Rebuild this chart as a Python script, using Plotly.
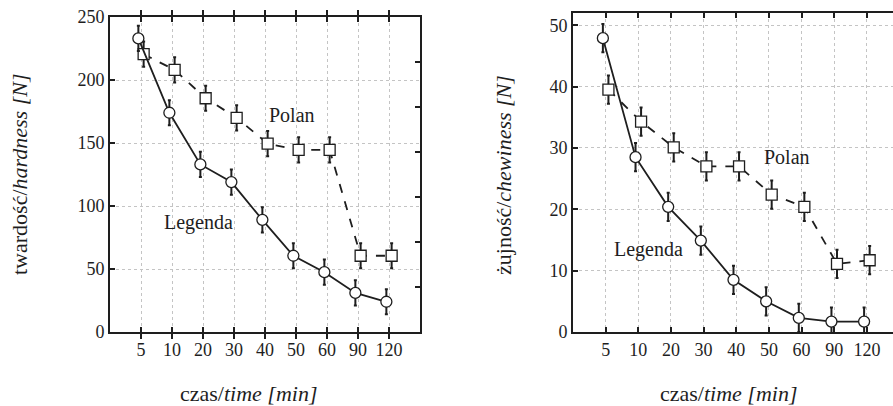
import plotly.graph_objects as go

W, H = 893, 406

categories = ["5", "10", "20", "30", "40", "50", "60", "90", "120"]

hard_legenda = [233, 174, 133, 119, 89, 60.5, 47.5, 31, 24]
hard_polan = [220.5, 208, 185.5, 170, 149.5, 144.5, 144.5, 60.5, 60.5]
hard_err = [10, 10, 10, 10, 10, 10, 10, 10, 10]

chew_legenda = [47.9, 28.5, 20.4, 14.9, 8.5, 5.0, 2.3, 1.7, 1.7]
chew_polan = [39.5, 34.3, 30.1, 27.0, 27.0, 22.4, 20.4, 11.1, 11.7]
chew_err = [2.3, 2.3, 2.3, 2.3, 2.3, 2.3, 2.3, 2.3, 2.3]

FONT = "'Liberation Serif', 'Times New Roman', Times, 'DejaVu Serif', serif"
INK = "#1e1e1e"
OFF = 0.085

idx = list(range(len(categories)))
fig = go.Figure()


def add_series(vals, err, offset, symbol, dash, xa, ya):
    fig.add_trace(go.Scatter(
        x=[i + offset for i in idx], y=vals,
        mode="lines+markers",
        line=dict(color=INK, width=1.8, dash=dash),
        marker=dict(symbol=symbol, size=11, color="white",
                    line=dict(color=INK, width=1.3)),
        error_y=dict(type="data", array=err, visible=True,
                     color=INK, thickness=2, width=1.5),
        xaxis=xa, yaxis=ya, showlegend=False, cliponaxis=False,
        hoverinfo="skip",
    ))


add_series(hard_polan, hard_err, OFF, "square", "dash", "x", "y")
add_series(hard_legenda, hard_err, -OFF, "circle", "solid", "x", "y")
add_series(chew_polan, chew_err, OFF, "square", "dash", "x2", "y2")
add_series(chew_legenda, chew_err, -OFF, "circle", "solid", "x2", "y2")


def px_x(p):
    return p / W


def px_y(p):
    return 1 - p / H


axis_common = dict(
    showline=True, linewidth=2, linecolor=INK, mirror="allticks",
    ticks="inside", ticklen=5, tickwidth=2, tickcolor=INK,
    showgrid=True, gridcolor="#c4c4c4", griddash="dot", gridwidth=1,
    zeroline=False, automargin=False,
    tickfont=dict(family=FONT, size=18, color=INK),
)

fig.update_layout(
    width=W, height=H,
    margin=dict(l=0, r=0, t=0, b=0, pad=0),
    font=dict(family=FONT, color=INK),
    paper_bgcolor="white", plot_bgcolor="white",
    xaxis=dict(axis_common, domain=[px_x(110), px_x(420)], range=[-1, 9],
               tickmode="array", tickvals=idx, ticktext=categories,
               anchor="y"),
    yaxis=dict(axis_common, domain=[px_y(332), px_y(17)], range=[0, 250],
               tickmode="array", tickvals=[0, 50, 100, 150, 200, 250],
               mirror=True, anchor="x"),
    yaxis3=dict(overlaying="y", side="right", anchor="x", range=[0, 7],
                tickmode="linear", dtick=1, ticks="inside", ticklen=5,
                tickwidth=2, tickcolor=INK, showticklabels=False,
                showgrid=False, zeroline=False, showline=False),
    xaxis2=dict(axis_common, domain=[px_x(573), 1.0], range=[-1, 8.8],
                tickmode="array", tickvals=idx, ticktext=categories,
                anchor="y2"),
    yaxis2=dict(axis_common, domain=[px_y(332), px_y(13)], range=[0, 52],
                tickmode="array", tickvals=[0, 10, 20, 30, 40, 50],
                mirror=True, anchor="x2"),
)

# dummy trace so the overlaying right axis is drawn
fig.add_trace(go.Scatter(x=[None], y=[None], xaxis="x", yaxis="y3",
                         showlegend=False, hoverinfo="skip"))

ann = [
    dict(text="Polan", x=4.87, y=172, xref="x", yref="y"),
    dict(text="Legenda", x=1.87, y=87, xref="x", yref="y"),
    dict(text="Polan", x=5.55, y=28.6, xref="x2", yref="y2"),
    dict(text="Legenda", x=1.32, y=13.5, xref="x2", yref="y2"),
]
for a in ann:
    fig.add_annotation(text=a["text"], x=a["x"], y=a["y"], xref=a["xref"],
                       yref=a["yref"], showarrow=False,
                       font=dict(family=FONT, size=20, color=INK))

titles = [
    dict(text="twardość/<i>hardness [N]</i>", x=19, y=175, angle=-90),
    dict(text="żujność/<i>chewiness [N]</i>", x=503, y=175, angle=-90),
    dict(text="czas/<i>time [min]</i>", x=248, y=393, angle=0),
    dict(text="czas/<i>time [min]</i>", x=728, y=393, angle=0),
]
for t in titles:
    fig.add_annotation(text=t["text"], x=px_x(t["x"]), y=px_y(t["y"]),
                       xref="paper", yref="paper", showarrow=False,
                       textangle=t["angle"], xanchor="center",
                       yanchor="middle",
                       font=dict(family=FONT, size=22, color=INK))

fig.write_html("out.html", config={"displayModeBar": False},
               post_script="document.body.style.margin='0';"
                           "document.body.style.overflow='hidden';")
